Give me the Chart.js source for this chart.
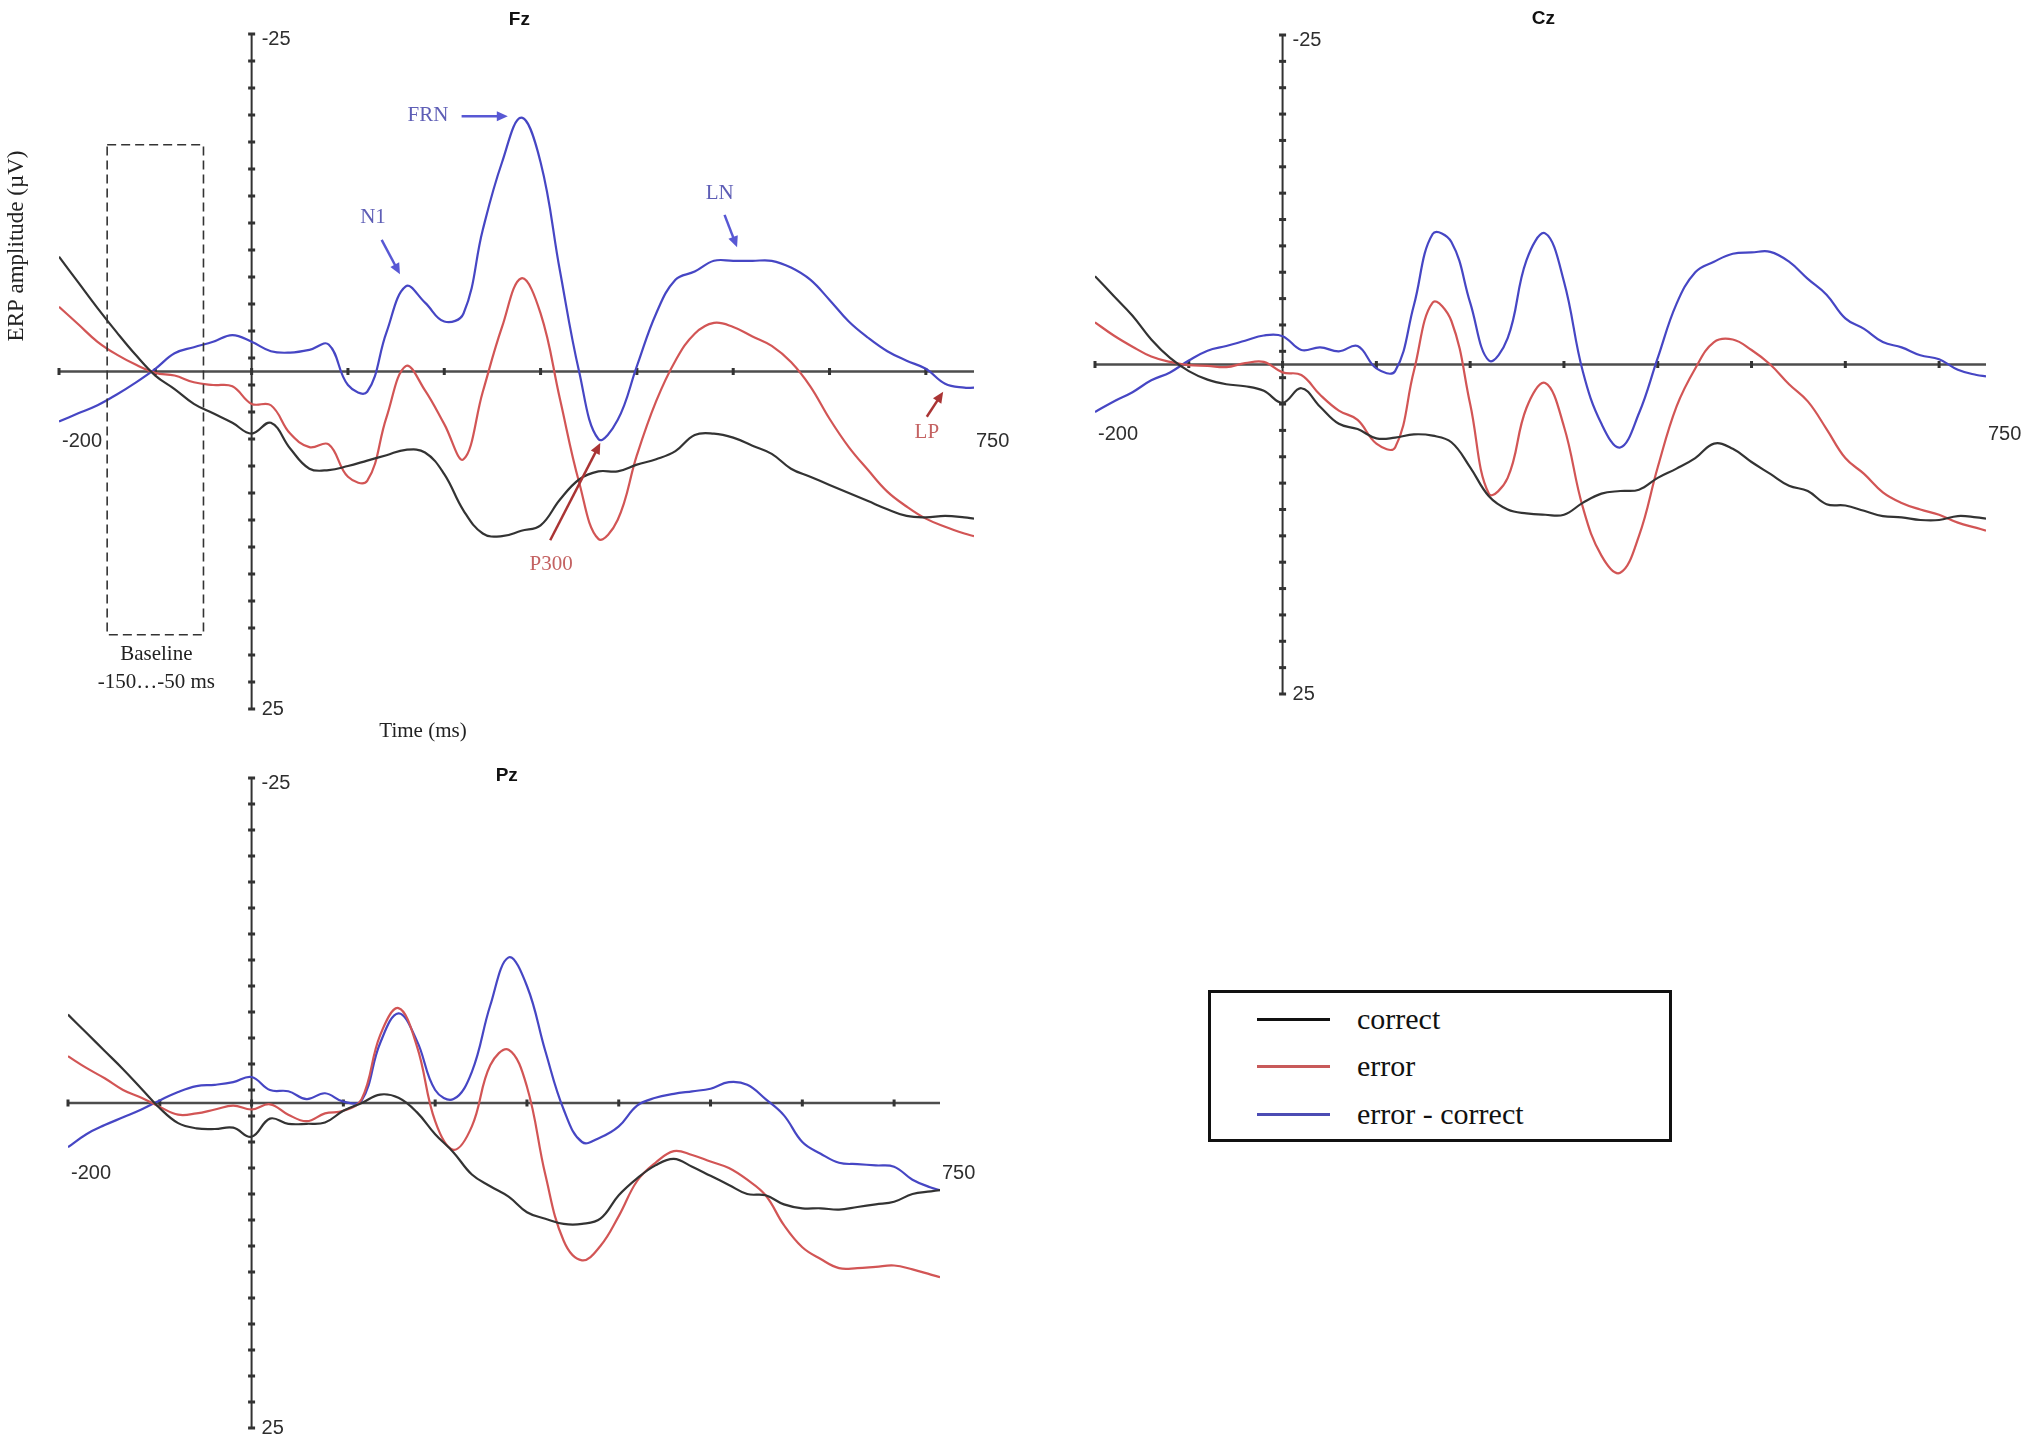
<!DOCTYPE html>
<html>
<head>
<meta charset="utf-8">
<title>ERP Fz Cz Pz</title>
<script src="https://cdn.jsdelivr.net/npm/chart.js@4.4.0/dist/chart.umd.min.js"></script>
<style>
    html, body { margin: 0; padding: 0; background: #fff; }
    body { width: 2033px; height: 1445px; position: relative; overflow: hidden; }
    canvas { position: absolute; }
    #legend {
        position: absolute; left: 1208px; top: 990px; width: 458px; height: 146px;
        border: 3px solid #111; box-sizing: content-box;
        font-family: "Liberation Serif", "Times New Roman", serif; font-size: 30px; color: #111;
    }
    #legend .row { position: absolute; left: 0; height: 40px; width: 100%; }
    #legend .sw { position: absolute; left: 46px; top: 19px; width: 73px; height: 3px; }
    #legend .lbl { position: absolute; left: 146px; top: 0; line-height: 40px; white-space: nowrap; }
</style>
</head>
<body>
<canvas id="fz" width="1040" height="760" style="left:0;top:0"></canvas>
<canvas id="cz" width="973" height="740" style="left:1060px;top:0"></canvas>
<canvas id="pz" width="1040" height="705" style="left:0;top:740px"></canvas>
<div id="legend"></div>

<script>
// time points (ms), shared by every panel
const times = [-200, -180, -160, -140, -120, -100, -80, -60, -40, -20, 0, 20, 40, 60, 80, 100, 120, 140, 160, 180,
    200, 220, 240, 260, 280, 300, 320, 340, 360, 380, 400, 420, 440, 460, 480, 500, 520, 540, 560, 580,
    600, 620, 640, 660, 680, 700, 720, 740, 750];

const seriesNames = ['correct', 'error', 'error - correct'];

// Fz
const fzCorrect = [-8.5, -6.6, -4.7, -2.9, -1.2, 0.3, 1.3, 2.4, 3.1, 3.8, 4.6, 3.8, 5.7, 7.2, 7.3, 7.0, 6.6, 6.2, 5.8, 6.0,
    7.6, 10.3, 12.0, 12.2, 11.8, 11.4, 9.5, 8.0, 7.4, 7.4, 6.9, 6.5, 5.9, 4.7, 4.6, 4.9, 5.5, 6.1, 7.2, 7.8,
    8.4, 9.0, 9.6, 10.2, 10.7, 10.8, 10.7, 10.8, 10.9];
const fzError = [-4.8, -3.5, -2.2, -1.25, -0.5, 0.1, 0.3, 0.8, 1.0, 1.1, 2.4, 2.5, 4.6, 5.6, 5.4, 7.8, 8.1, 3.4, -0.4, 1.4,
    3.9, 6.5, 1.5, -3.3, -6.9, -4.3, 2.0, 8.2, 12.4, 11.0, 6.2, 2.2, -0.8, -2.8, -3.6, -3.3, -2.6, -1.9, -0.7, 1.1,
    3.5, 5.6, 7.3, 8.9, 10.0, 10.9, 11.5, 12.0, 12.2];
const fzDiff = [3.7, 3.1, 2.5, 1.7, 0.8, -0.2, -1.35, -1.8, -2.2, -2.7, -2.2, -1.5, -1.4, -1.6, -2.0, 1.0, 1.5, -2.9, -6.3, -5.1,
    -3.7, -4.3, -10.5, -15.5, -18.8, -15.5, -7.5, 0.0, 5.0, 3.6, -0.4, -4.3, -6.8, -7.4, -8.2, -8.2, -8.2, -8.2, -7.7, -6.8,
    -5.3, -3.7, -2.5, -1.5, -0.8, -0.2, 0.9, 1.2, 1.2];

// Cz
const czCorrect = [-6.7, -5.2, -3.7, -1.9, -0.5, 0.5, 1.15, 1.5, 1.65, 2.0, 2.9, 1.8, 3.2, 4.5, 4.9, 5.6, 5.55, 5.3, 5.4, 5.9,
    7.8, 10.0, 11.0, 11.3, 11.4, 11.4, 10.5, 9.8, 9.6, 9.5, 8.6, 7.9, 7.1, 6.0, 6.4, 7.4, 8.3, 9.2, 9.6, 10.6,
    10.7, 11.1, 11.5, 11.6, 11.8, 11.8, 11.5, 11.6, 11.7];
const czError = [-3.2, -2.2, -1.35, -0.6, -0.2, 0.05, 0.1, 0.2, -0.1, -0.2, 0.6, 0.8, 2.3, 3.5, 4.2, 6.0, 6.3, 0.5, -4.7, -3.3,
    3.0, 9.8, 8.6, 3.3, 1.4, 4.7, 10.8, 14.5, 15.8, 13.0, 7.8, 3.2, 0.3, -1.7, -1.9, -1.1, 0.0, 1.5, 2.8, 4.9,
    7.1, 8.3, 9.7, 10.5, 11.0, 11.4, 12.0, 12.4, 12.6];
const czDiff = [3.6, 2.8, 2.1, 1.2, 0.6, -0.3, -1.05, -1.4, -1.8, -2.2, -2.15, -1.1, -1.3, -1.0, -1.4, 0.3, 0.5, -4.5, -9.9, -9.3,
    -4.7, -0.3, -2.0, -7.9, -9.95, -6.3, 0.5, 4.5, 6.3, 3.7, -0.5, -4.6, -7.0, -7.8, -8.4, -8.5, -8.55, -7.8, -6.5, -5.3,
    -3.5, -2.7, -1.7, -1.3, -0.7, -0.4, 0.4, 0.8, 0.9];

// Pz
const pzCorrect = [-6.8, -5.4, -4.0, -2.6, -1.1, 0.4, 1.55, 1.95, 2.0, 1.9, 2.6, 1.2, 1.6, 1.6, 1.5, 0.6, 0.0, -0.65, -0.4, 0.7,
    2.4, 3.8, 5.5, 6.4, 7.2, 8.4, 8.9, 9.3, 9.3, 8.9, 7.1, 5.8, 4.8, 4.3, 4.9, 5.6, 6.3, 7.0, 7.1, 7.8,
    8.1, 8.1, 8.2, 8.0, 7.8, 7.6, 7.0, 6.8, 6.7];
const pzError = [-3.6, -2.7, -1.9, -1.0, -0.4, 0.3, 0.9, 0.8, 0.5, 0.2, 0.5, 0.1, 0.9, 1.4, 0.8, 0.6, -0.3, -5.2, -7.3, -4.4,
    1.4, 3.6, 1.8, -2.9, -4.1, -1.25, 5.5, 10.6, 12.1, 11.0, 8.7, 6.0, 4.6, 3.7, 4.0, 4.5, 5.0, 5.9, 7.1, 9.4,
    11.1, 12.0, 12.7, 12.7, 12.6, 12.5, 12.8, 13.2, 13.4];
const pzDiff = [3.4, 2.4, 1.7, 1.1, 0.5, -0.2, -0.85, -1.3, -1.4, -1.6, -2.0, -1.0, -0.9, -0.3, -0.75, -0.1, -0.2, -4.6, -6.9, -4.8,
    -1.0, -0.3, -2.4, -7.5, -11.2, -9.0, -4.0, 0.5, 3.0, 2.65, 1.8, 0.2, -0.4, -0.7, -0.9, -1.1, -1.6, -1.4, -0.3, 0.95,
    3.0, 3.9, 4.6, 4.7, 4.8, 4.9, 5.9, 6.5, 6.7];

// axis ticks and labels
const xTicks = [-200, -100, 0, 100, 200, 300, 400, 500, 600, 700];
const xTickLabels = ['-200', '750'];
const yTickLabels = ['-25', '25'];
const yTicks = [];
for (let v = -25; v <= 25; v += 2) yTicks.push(v);

const lineColors = ['#333333', '#d25555', '#4646c4'];
const sansFont = '"Liberation Sans", Arial, sans-serif';
const serifFont = '"Liberation Serif", "Times New Roman", serif';

function toPoints(vals) {
    return times.map((t, i) => ({ x: t, y: vals[i] }));
}

// draws the zero line, the y axis at 0 ms, tick marks, end labels and panel title
const erpAxes = {
    id: 'erpAxes',
    beforeDatasetsDraw(chart, args, opts) {
        const { ctx, scales: { x, y } } = chart;
        const x0 = x.getPixelForValue(0);
        const y0 = y.getPixelForValue(0);
        ctx.save();
        ctx.strokeStyle = '#4d4d4d';
        ctx.lineWidth = 2.5;
        ctx.beginPath();
        ctx.moveTo(x.left, y0);
        ctx.lineTo(x.right, y0);
        ctx.stroke();

        ctx.strokeStyle = '#333';
        ctx.lineWidth = 2;
        ctx.beginPath();
        ctx.moveTo(x0, y.top);
        ctx.lineTo(x0, y.bottom);
        ctx.stroke();

        ctx.fillStyle = '#333';
        yTicks.forEach(v => {
            const py = y.getPixelForValue(v);
            ctx.fillRect(x0 - 3.5, py - 1.5, 7, 3);
        });
        xTicks.forEach(t => {
            const px = x.getPixelForValue(t);
            ctx.fillRect(px - 1.5, y0 - 3.5, 3, 7);
        });

        ctx.fillStyle = '#2e2e2e';
        ctx.font = '20px ' + sansFont;
        ctx.textAlign = 'left';
        ctx.textBaseline = 'middle';
        ctx.fillText(yTickLabels[0], x0 + 10, y.top + 5);
        ctx.fillText(yTickLabels[1], x0 + 10, y.bottom);
        ctx.fillText(xTickLabels[0], x.left + 3, y0 + 70);
        ctx.fillText(xTickLabels[1], x.right + 2, y0 + 70);

        ctx.fillStyle = '#111';
        ctx.font = 'bold 19px ' + sansFont;
        ctx.textAlign = 'center';
        ctx.fillText(opts.title, x.getPixelForValue(278), y.top - opts.titleGap);
        ctx.restore();
    }
};

// Fz extras: axis titles, baseline window, component labels with arrows
const blueText = '#5e5eb6', blueArrow = '#5858d4';
const redText = '#c46262', redArrow = '#aa3434';
const fzLabels = [
    { text: 'N1', t: 126, v: -11.4, color: blueText },
    { text: 'FRN', t: 183, v: -19.0, color: blueText },
    { text: 'LN', t: 486, v: -13.2, color: blueText },
    { text: 'P300', t: 311, v: 14.3, color: redText },
    { text: 'LP', t: 701, v: 4.5, color: redText }
];
const fzArrows = [
    { from: [135, -9.75], to: [154, -7.2], color: blueArrow },
    { from: [218, -18.9], to: [266, -18.9], color: blueArrow },
    { from: [491, -11.6], to: [504, -9.2], color: blueArrow },
    { from: [310, 12.5], to: [362, 5.3], color: redArrow },
    { from: [701, 3.35], to: [718, 1.5], color: redArrow }
];

function drawArrow(ctx, x1, y1, x2, y2, color) {
    const ang = Math.atan2(y2 - y1, x2 - x1);
    const hl = 11, hw = 5;
    ctx.strokeStyle = color;
    ctx.fillStyle = color;
    ctx.lineWidth = 2.5;
    ctx.beginPath();
    ctx.moveTo(x1, y1);
    ctx.lineTo(x2 - Math.cos(ang) * hl * 0.8, y2 - Math.sin(ang) * hl * 0.8);
    ctx.stroke();
    ctx.beginPath();
    ctx.moveTo(x2, y2);
    ctx.lineTo(x2 - Math.cos(ang) * hl - Math.sin(ang) * hw, y2 - Math.sin(ang) * hl + Math.cos(ang) * hw);
    ctx.lineTo(x2 - Math.cos(ang) * hl + Math.sin(ang) * hw, y2 - Math.sin(ang) * hl - Math.cos(ang) * hw);
    ctx.closePath();
    ctx.fill();
}

const fzNotes = {
    id: 'fzNotes',
    afterDatasetsDraw(chart) {
        const { ctx, scales: { x, y } } = chart;
        ctx.save();

        // baseline window -150 ... -50 ms
        ctx.strokeStyle = '#333';
        ctx.lineWidth = 1.6;
        ctx.setLineDash([9, 5]);
        const bx1 = x.getPixelForValue(-150), bx2 = x.getPixelForValue(-50);
        const by1 = y.getPixelForValue(-16.8), by2 = y.getPixelForValue(19.5);
        ctx.strokeRect(bx1, by1, bx2 - bx1, by2 - by1);
        ctx.setLineDash([]);

        ctx.fillStyle = '#222';
        ctx.font = '21px ' + serifFont;
        ctx.textAlign = 'center';
        ctx.textBaseline = 'middle';
        ctx.fillText('Baseline', (bx1 + bx2) / 2 + 1, by2 + 20);
        ctx.fillText('-150\u2026-50 ms', (bx1 + bx2) / 2 + 1, by2 + 48);
        ctx.fillText('Time (ms)', 423, 731);

        ctx.save();
        ctx.translate(17, 246);
        ctx.rotate(-Math.PI / 2);
        ctx.font = '23px ' + serifFont;
        ctx.fillText('ERP amplitude (\u00b5V)', 0, 0);
        ctx.restore();

        ctx.font = '21px ' + serifFont;
        fzLabels.forEach(l => {
            ctx.fillStyle = l.color;
            ctx.fillText(l.text, x.getPixelForValue(l.t), y.getPixelForValue(l.v));
        });
        fzArrows.forEach(a => {
            drawArrow(ctx, x.getPixelForValue(a.from[0]), y.getPixelForValue(a.from[1]),
                x.getPixelForValue(a.to[0]), y.getPixelForValue(a.to[1]), a.color);
        });
        ctx.restore();
    }
};

function makePanel(id, title, titleGap, series, padding, extra) {
    return new Chart(document.getElementById(id), {
        type: 'line',
        data: {
            datasets: series.map((vals, i) => ({
                label: seriesNames[i],
                data: toPoints(vals),
                borderColor: lineColors[i],
                borderWidth: 2.2,
                pointRadius: 0,
                tension: 0.4,
                fill: false
            }))
        },
        options: {
            responsive: false,
            animation: false,
            layout: { padding: padding },
            scales: {
                x: { type: 'linear', min: -200, max: 750, display: false },
                y: { type: 'linear', min: -25, max: 25, reverse: true, display: false }
            },
            plugins: {
                legend: { display: false },
                tooltip: { enabled: false },
                erpAxes: { title: title, titleGap: titleGap }
            }
        },
        plugins: [erpAxes].concat(extra || [])
    });
}

makePanel('fz', 'Fz', 14, [fzCorrect, fzError, fzDiff], { left: 59, top: 34, right: 66, bottom: 51 }, [fzNotes]);
makePanel('cz', 'Cz', 16, [czCorrect, czError, czDiff], { left: 35, top: 35, right: 47, bottom: 46 });
makePanel('pz', 'Pz', 2, [pzCorrect, pzError, pzDiff], { left: 68, top: 38, right: 100, bottom: 17 });

// legend box
const legendColors = ['#111111', '#c85a5a', '#4c4cb4'];
const legendRowTops = [1, 48, 96];
const legend = document.getElementById('legend');
seriesNames.forEach((name, i) => {
    const row = document.createElement('div');
    row.className = 'row';
    row.style.top = (legendRowTops[i] + 5) + 'px';
    const sw = document.createElement('span');
    sw.className = 'sw';
    sw.style.background = legendColors[i];
    const lbl = document.createElement('span');
    lbl.className = 'lbl';
    lbl.textContent = name;
    row.appendChild(sw);
    row.appendChild(lbl);
    legend.appendChild(row);
});
</script>
</body>
</html>
